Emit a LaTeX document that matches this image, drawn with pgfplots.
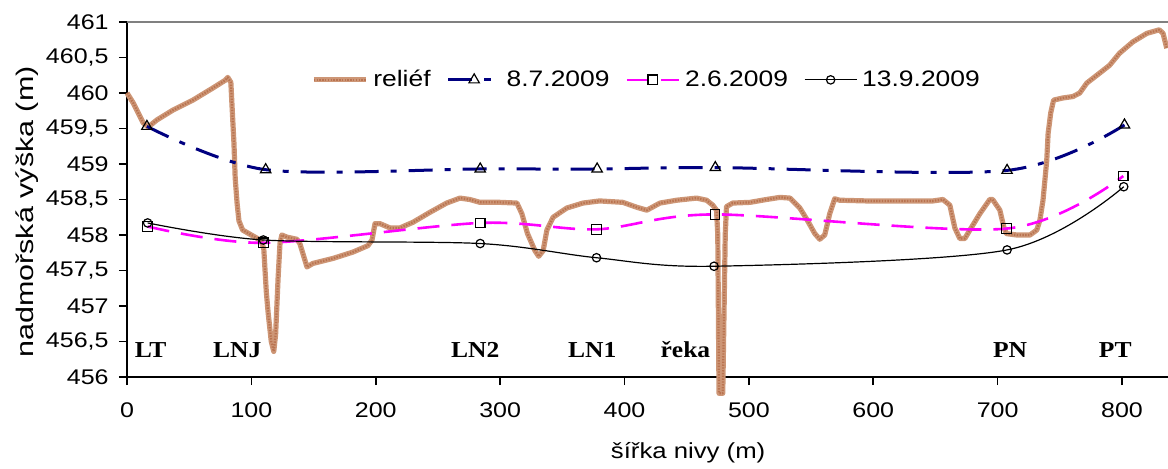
\documentclass[border=0pt]{standalone}
\usepackage{fontspec}
\setmainfont{Liberation Sans}[FakeStretch=1.18]
\newfontfamily\serifb{Liberation Serif}[FakeStretch=1.12]
\newfontfamily\ylabfont{Liberation Sans}[FakeStretch=1.27]
\usepackage{pgfplots}
\pgfplotsset{compat=1.18}
\definecolor{reliefc}{RGB}{205,150,118}
\definecolor{reliefd}{RGB}{185,115,80}
\definecolor{navyc}{RGB}{0,0,128}
\definecolor{magc}{RGB}{255,0,255}
\begin{document}
\begin{tikzpicture}
\begin{axis}[
  name=ax,
  scale only axis,
  width=520.5pt, height=177.5pt,
  xmin=0, xmax=837, ymin=456, ymax=461,
  clip=false,
  axis x line*=bottom, axis y line*=left,
  axis line style={-, black, line width=0.9pt},
  tick align=outside,
  major tick length=4pt,
  tick style={black, line width=0.8pt},
  xtick={0,100,...,800},
  ytick={456,456.5,...,461},
  /pgf/number format/use comma,
  /pgf/number format/assume math mode=true,
  tick label style={font=\fontsize{10.6}{12}\selectfont},
  xticklabel style={anchor=base, yshift=-16pt, inner sep=0pt},
  yticklabel style={anchor=east, xshift=-5pt, inner sep=0pt},
  xlabel={šířka nivy (m)},
  ylabel={nadmořská výška (m)},
  every axis x label/.style={at={(axis description cs:0.539,0)}, anchor=base, yshift=-40.5pt, inner sep=0pt, font=\fontsize{10.9}{12}\selectfont},
  every axis y label/.style={at={(axis description cs:-0.1076,0.465)}, rotate=90, anchor=north, inner sep=0pt, font=\ylabfont\fontsize{12}{13}\selectfont},
  legend columns=4,
  legend style={draw=none, fill=none, at={(axis description cs:0.5,0.837)}, anchor=center,
    font=\fontsize{11.2}{13}\selectfont,
    /tikz/every odd column/.append style={column sep=0.5pt},
    /tikz/every even column/.append style={column sep=6pt}},
  legend image code/.code={\draw[mark repeat=2,mark phase=2] plot coordinates {(0pt,0pt) (13pt,0pt) (26pt,0pt)};},
]
\draw[gray, line width=1.3pt] (rel axis cs:0,1) -- (rel axis cs:1,1);

% relief
\addplot[reliefc, line width=2.6pt, line join=round,
  postaction={draw=reliefd, line width=1.1pt, dash pattern=on 0.7pt off 0.7pt}] coordinates {
(0,460.00) (5,459.86) (9,459.72) (13,459.58) (17,459.52) (24,459.62) (37,459.76) (53,459.90)
(69,460.07) (79,460.18) (81,460.22) (83.5,460.15) (84.5,459.80) (86,459.29) (87,458.80)
(88.5,458.45) (90,458.20) (93,458.07) (100,458.00) (108,457.92) (110,457.80) (112,457.20)
(113.5,456.90) (116,456.50) (118,456.36) (119.5,456.60) (120.5,457.00) (121.5,457.40)
(123,457.88) (124.5,458.00) (128.6,457.97) (136.6,457.94) (139,457.88) (144.7,457.55)
(149.5,457.60) (165.6,457.67) (181.7,457.76) (193.7,457.85) (197,457.93) (199.4,458.16)
(203.4,458.16) (211.4,458.10) (219.5,458.10) (230,458.18) (243.6,458.32) (257,458.45)
(267.7,458.52) (275.7,458.50) (283.8,458.46) (300,458.46) (313.5,458.45) (317.5,458.30)
(322,458.02) (328,457.78) (331,457.70) (334.6,457.78) (337.6,458.07) (342.6,458.25)
(353.6,458.38) (366.6,458.45) (380,458.48) (398.7,458.46) (410,458.39) (418,458.35)
(428.5,458.45) (442,458.49) (458,458.52) (466,458.49) (471,458.42) (474,458.35)
(475,458.0) (476,455.77) (479,455.77) (481,458.0) (482,458.40) (487,458.45) (501,458.46)
(514,458.50) (525,458.53) (533,458.52) (541,458.38) (546.6,458.22) (553,458.02)
(557,457.94) (561,458.00) (565,458.30) (569,458.51) (573,458.49) (594.6,458.48)
(621,458.48) (648,458.48) (656,458.50) (661.6,458.42) (665.6,458.10) (669.6,457.95)
(673.6,457.95) (677.7,458.07) (685.7,458.30) (693.7,458.50) (696,458.50) (701.8,458.35)
(705,458.11) (707,458.02) (715.4,458.00) (726,458.00) (731.5,458.07) (734,458.21)
(736.5,458.49) (739.5,459.05) (740.6,459.43) (742.7,459.72) (745,459.90) (752.4,459.93)
(760.5,459.95) (766,460.00) (771.7,460.14) (782,460.28) (790,460.39) (798,460.56)
(808.7,460.72) (820,460.84) (830,460.89) (833,460.84) (836,460.63)
};
\addlegendentry{reliéf}

\addplot[navyc, line width=1.5pt, smooth, dash pattern=on 12pt off 6pt on 3pt off 6pt,
  mark=triangle, mark size=3pt, mark options={solid, black, line width=0.6pt, fill=white}] coordinates {
(16,459.53) (111.5,458.92) (284,458.93) (378,458.93) (473,458.95) (707.6,458.91) (802,459.55)
};
\addlegendentry{8.7.2009}

\addplot[magc, line width=1.3pt, smooth, dash pattern=on 11pt off 6pt,
  mark=square, mark size=2.4pt, mark options={solid, black, line width=0.6pt, fill=white}] coordinates {
(16.6,458.12) (109.6,457.89) (284,458.17) (377.5,458.08) (472.7,458.29) (707,458.09) (801,458.83)
};
\addlegendentry{2.6.2009}

\addplot[black, line width=0.6pt, smooth,
  mark=o, mark size=2.1pt, mark options={solid, black, line width=0.6pt, fill=white}] coordinates {
(16.6,458.17) (109.6,457.93) (284,457.88) (377.5,457.68) (472,457.56) (707.6,457.79) (801.4,458.68)
};
\addlegendentry{13.9.2009}

\begin{scope}[every node/.style={font=\serifb\bfseries\fontsize{11.4}{12}\selectfont, inner sep=0pt}]
\node at (axis cs:19,456.38) {LT};
\node at (axis cs:88.6,456.38) {LNJ};
\node at (axis cs:280,456.38) {LN2};
\node at (axis cs:374,456.38) {LN1};
\node at (axis cs:449,456.38) {řeka};
\node at (axis cs:710,456.38) {PN};
\node at (axis cs:794.6,456.38) {PT};
\end{scope}
\end{axis}
\pgfresetboundingbox
\path[use as bounding box] ([xshift=-63.5pt,yshift=-45.5pt]ax.south west) rectangle ([yshift=11pt]ax.north east);
\end{tikzpicture}
\end{document}
